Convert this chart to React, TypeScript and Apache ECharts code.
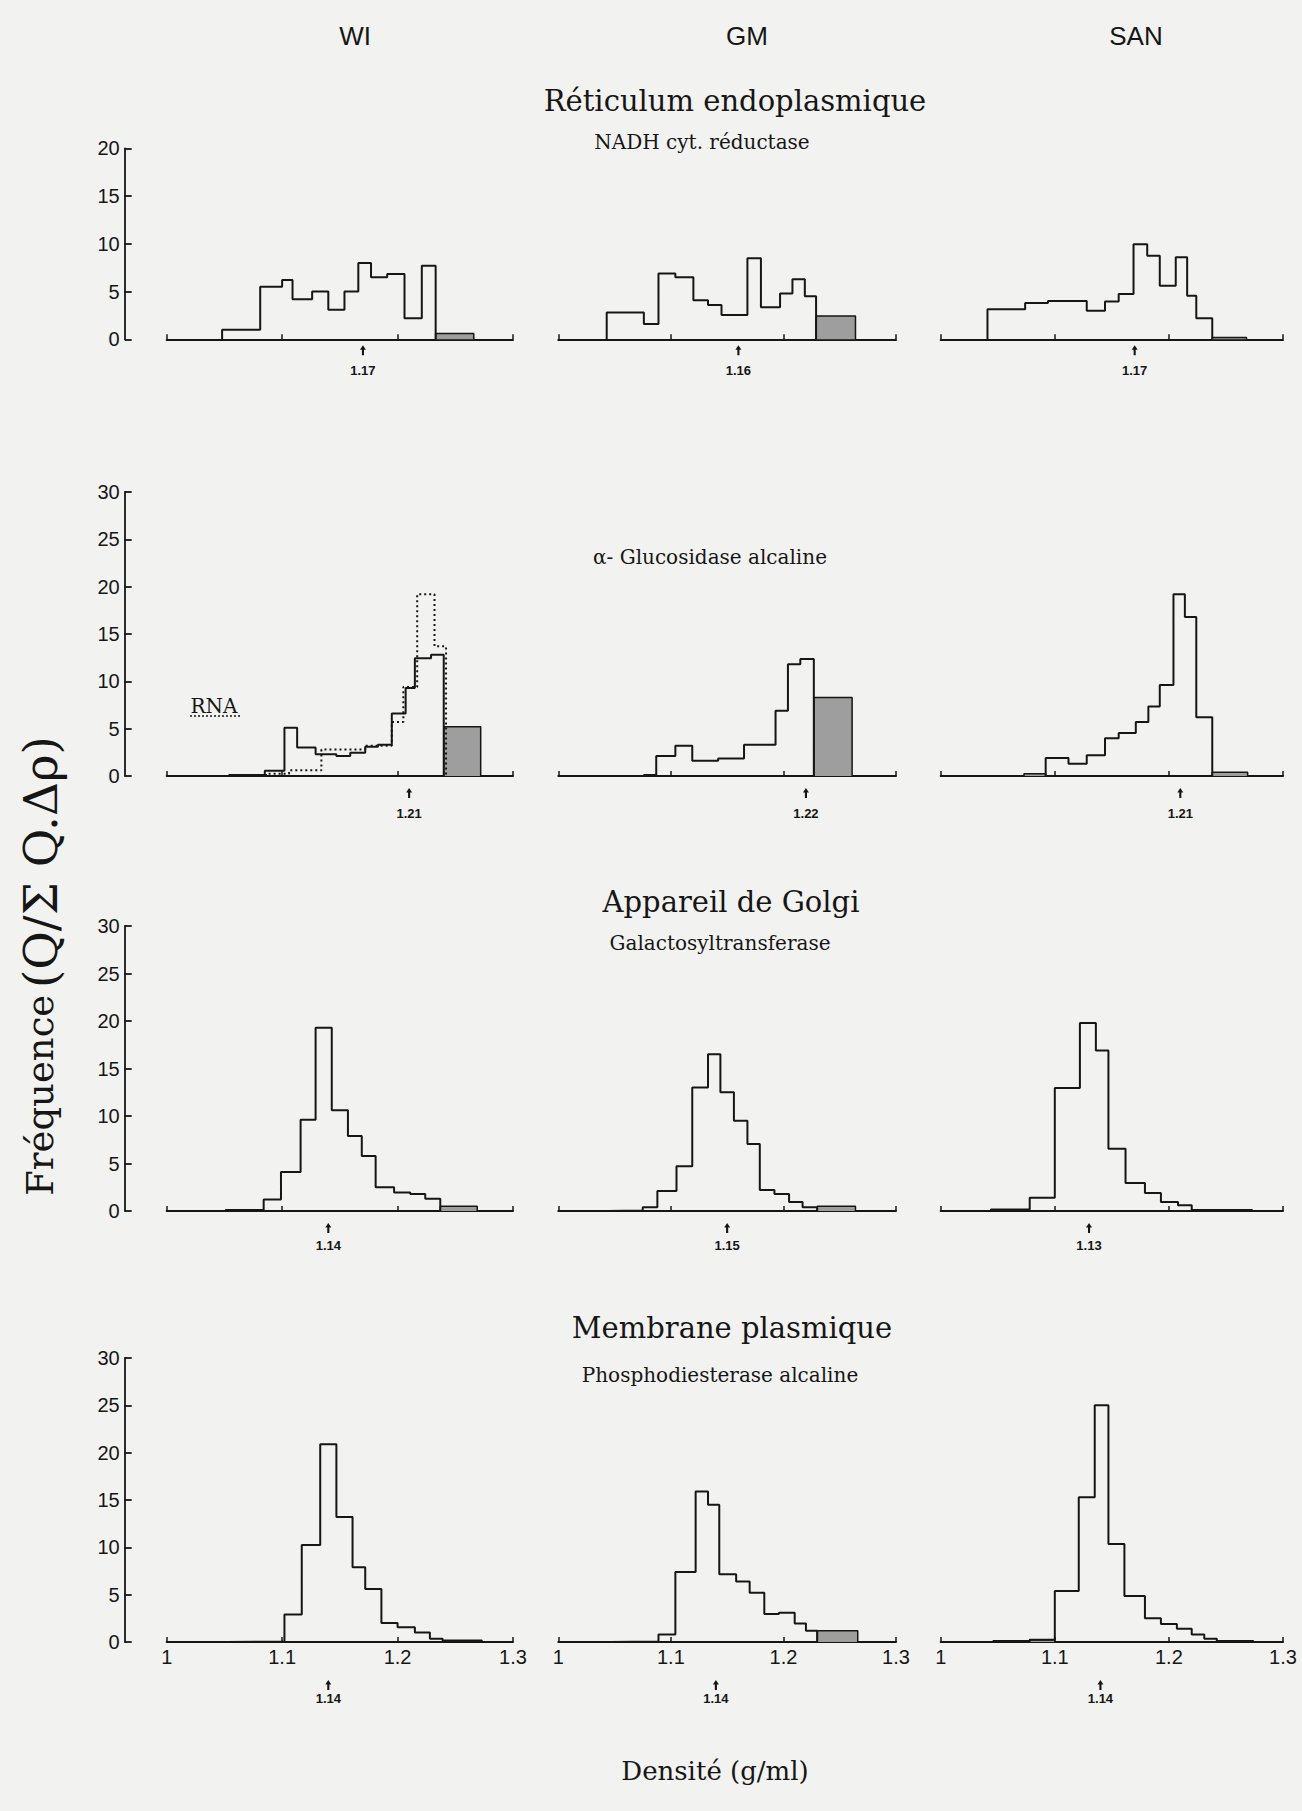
import React, { useEffect, useRef } from 'react';
import * as echarts from 'echarts';

const columns = ['WI', 'GM', 'SAN'];
const organelles = ['Réticulum endoplasmique', 'Appareil de Golgi', 'Membrane plasmique'];
const enzymes = ['NADH cyt. réductase', 'α- Glucosidase alcaline', 'Galactosyltransferase', 'Phosphodiesterase alcaline'];
const xTicks = [1, 1.1, 1.2, 1.3];
const yMaxByRow = [20, 30, 30, 30];
const yTickStep = 5;

// Row 1 — NADH cyt. réductase
const wiNadhEdges = [1.048, 1.081, 1.100, 1.109, 1.126, 1.140, 1.154, 1.166, 1.177, 1.191, 1.206, 1.221, 1.233];
const wiNadhValues = [1.0, 5.5, 6.2, 4.2, 5.0, 3.1, 5.0, 8.0, 6.5, 6.85, 2.2, 7.7];
const wiNadhShaded = [[1.233, 1.266, 0.6]];
const wiNadhMean = 1.17;

const gmNadhEdges = [1.043, 1.076, 1.089, 1.104, 1.120, 1.133, 1.145, 1.168, 1.180, 1.197, 1.208, 1.219, 1.229];
const gmNadhValues = [2.8, 1.6, 6.9, 6.5, 4.1, 3.6, 2.55, 8.5, 3.35, 4.8, 6.3, 4.5];
const gmNadhShaded = [[1.229, 1.264, 2.45]];
const gmNadhMean = 1.16;

const sanNadhEdges = [1.041, 1.074, 1.094, 1.128, 1.144, 1.156, 1.169, 1.181, 1.192, 1.206, 1.216, 1.224, 1.238];
const sanNadhValues = [3.15, 3.8, 4.0, 3.0, 3.95, 4.75, 9.95, 8.75, 5.6, 8.6, 4.55, 2.2];
const sanNadhShaded = [[1.238, 1.268, 0.2]];
const sanNadhMean = 1.17;

// Row 2 — α-Glucosidase alcaline
const wiGlucEdges = [1.054, 1.085, 1.102, 1.113, 1.129, 1.147, 1.159, 1.172, 1.183, 1.195, 1.207, 1.215, 1.229, 1.240];
const wiGlucValues = [0.1, 0.55, 5.1, 3.0, 2.3, 2.1, 2.45, 3.1, 3.3, 6.6, 9.3, 12.45, 12.8];
const wiGlucShaded = [[1.240, 1.272, 5.2]];
const wiGlucMean = 1.21;
const wiRnaEdges = [1.086, 1.106, 1.134, 1.172, 1.195, 1.205, 1.217, 1.232, 1.242];
const wiRnaValues = [0.25, 0.6, 2.8, 3.2, 5.7, 9.4, 19.2, 13.7];

const gmGlucEdges = [1.076, 1.087, 1.104, 1.119, 1.142, 1.165, 1.193, 1.204, 1.215, 1.227];
const gmGlucValues = [0.1, 2.1, 3.2, 1.6, 1.85, 3.3, 6.9, 11.8, 12.35];
const gmGlucShaded = [[1.227, 1.261, 8.3]];
const gmGlucMean = 1.22;

const sanGlucEdges = [1.092, 1.112, 1.128, 1.144, 1.156, 1.171, 1.182, 1.192, 1.204, 1.214, 1.224, 1.238];
const sanGlucValues = [1.9, 1.3, 2.2, 4.0, 4.55, 5.7, 7.35, 9.6, 19.2, 16.8, 6.2];
const sanGlucShaded = [[1.073, 1.092, 0.25], [1.238, 1.269, 0.4]];
const sanGlucMean = 1.21;

// Row 3 — Galactosyltransferase
const wiGalEdges = [1.051, 1.084, 1.099, 1.116, 1.129, 1.143, 1.157, 1.169, 1.181, 1.197, 1.211, 1.224, 1.237];
const wiGalValues = [0.1, 1.2, 4.1, 9.6, 19.3, 10.6, 7.9, 5.8, 2.5, 1.95, 1.8, 1.3];
const wiGalShaded = [[1.237, 1.269, 0.5]];
const wiGalMean = 1.14;

const gmGalEdges = [1.043, 1.075, 1.088, 1.105, 1.119, 1.133, 1.144, 1.156, 1.168, 1.179, 1.192, 1.205, 1.217, 1.230];
const gmGalValues = [0.05, 0.4, 2.1, 4.7, 13.0, 16.5, 12.5, 9.5, 7.05, 2.2, 1.8, 0.95, 0.4];
const gmGalShaded = [[1.230, 1.264, 0.5]];
const gmGalMean = 1.15;

const sanGalEdges = [1.044, 1.078, 1.100, 1.122, 1.136, 1.147, 1.162, 1.179, 1.193, 1.208, 1.220, 1.273];
const sanGalValues = [0.15, 1.4, 12.95, 19.8, 16.9, 6.55, 2.95, 1.9, 0.95, 0.6, 0.1];
const sanGalShaded: number[][] = [];
const sanGalMean = 1.13;

// Row 4 — Phosphodiesterase alcaline
const wiPdeEdges = [1.052, 1.102, 1.117, 1.133, 1.147, 1.161, 1.172, 1.186, 1.200, 1.215, 1.228, 1.239, 1.273];
const wiPdeValues = [0.05, 2.9, 10.25, 20.9, 13.2, 7.9, 5.6, 2.0, 1.55, 1.0, 0.35, 0.15];
const wiPdeShaded: number[][] = [];
const wiPdeMean = 1.14;

const gmPdeEdges = [1.045, 1.089, 1.104, 1.122, 1.133, 1.143, 1.158, 1.170, 1.183, 1.196, 1.210, 1.220, 1.230];
const gmPdeValues = [0.05, 0.8, 7.4, 15.9, 14.5, 7.15, 6.4, 5.2, 2.95, 3.1, 1.95, 1.2];
const gmPdeShaded = [[1.230, 1.266, 1.2]];
const gmPdeMean = 1.14;

const sanPdeEdges = [1.046, 1.078, 1.100, 1.121, 1.135, 1.147, 1.161, 1.179, 1.193, 1.207, 1.220, 1.231, 1.242, 1.274];
const sanPdeValues = [0.1, 0.25, 5.4, 15.3, 25.0, 10.35, 4.85, 2.5, 1.9, 1.4, 0.8, 0.35, 0.1];
const sanPdeShaded = [[1.078, 1.100, 0.25]];
const sanPdeMean = 1.14;

type Panel = { edges: number[]; values: number[]; shaded: number[][]; mean: number; dotted?: { edges: number[]; values: number[] } };

const panels: Panel[][] = [
  [
    { edges: wiNadhEdges, values: wiNadhValues, shaded: wiNadhShaded, mean: wiNadhMean },
    { edges: gmNadhEdges, values: gmNadhValues, shaded: gmNadhShaded, mean: gmNadhMean },
    { edges: sanNadhEdges, values: sanNadhValues, shaded: sanNadhShaded, mean: sanNadhMean },
  ],
  [
    { edges: wiGlucEdges, values: wiGlucValues, shaded: wiGlucShaded, mean: wiGlucMean, dotted: { edges: wiRnaEdges, values: wiRnaValues } },
    { edges: gmGlucEdges, values: gmGlucValues, shaded: gmGlucShaded, mean: gmGlucMean },
    { edges: sanGlucEdges, values: sanGlucValues, shaded: sanGlucShaded, mean: sanGlucMean },
  ],
  [
    { edges: wiGalEdges, values: wiGalValues, shaded: wiGalShaded, mean: wiGalMean },
    { edges: gmGalEdges, values: gmGalValues, shaded: gmGalShaded, mean: gmGalMean },
    { edges: sanGalEdges, values: sanGalValues, shaded: sanGalShaded, mean: sanGalMean },
  ],
  [
    { edges: wiPdeEdges, values: wiPdeValues, shaded: wiPdeShaded, mean: wiPdeMean },
    { edges: gmPdeEdges, values: gmPdeValues, shaded: gmPdeShaded, mean: gmPdeMean },
    { edges: sanPdeEdges, values: sanPdeValues, shaded: sanPdeShaded, mean: sanPdeMean },
  ],
];

// layout (pixels)
const colLeft = [166.7, 558.3, 940.7];
const colWidth = [346.3, 337.7, 342.3];
const rowTop = [148.3, 492, 926, 1358];
const rowBottom = [339.3, 776, 1211, 1642];
const markerCenter = [11, 17, 17, 43];
const markerLabelDist = [9, 9, 6, 2];

const INK = '#161616';
const SERIF = '"DejaVu Serif", "Liberation Serif", serif';
const SANS = '"Liberation Sans", Arial, sans-serif';

function stepPoints(edges: number[], values: number[]) {
  const pts: number[][] = [[edges[0], 0]];
  values.forEach((v, i) => {
    pts.push([edges[i], v], [edges[i + 1], v]);
  });
  pts.push([edges[edges.length - 1], 0]);
  return pts;
}

function buildOption() {
  const grid: any[] = [];
  const xAxis: any[] = [];
  const yAxis: any[] = [];
  const series: any[] = [];
  let idx = 0;
  panels.forEach((row, r) => {
    row.forEach((p, c) => {
      grid.push({ left: colLeft[c], top: rowTop[r], width: colWidth[c], height: rowBottom[r] - rowTop[r], containLabel: false });
      xAxis.push({
        type: 'value', gridIndex: idx, min: xTicks[0], max: xTicks[xTicks.length - 1], interval: 0.1,
        axisLine: { show: true, onZero: false, lineStyle: { color: INK, width: 2 } },
        axisTick: { show: true, inside: true, length: 5, lineStyle: { color: INK, width: 1.5 } },
        splitLine: { show: false },
        axisLabel: {
          show: r === 3, color: INK, fontSize: 20, fontFamily: SANS, margin: 5,
          formatter: (v: number) => (Math.abs(v - 1) < 1e-9 ? '1' : v.toFixed(1)),
        },
      });
      yAxis.push({
        type: 'value', gridIndex: idx, min: 0, max: yMaxByRow[r], interval: yTickStep,
        show: c === 0, offset: 42,
        axisLine: { show: true, lineStyle: { color: INK, width: 1.8 } },
        axisTick: { show: true, inside: true, length: 7, lineStyle: { color: INK, width: 1.8 } },
        splitLine: { show: false },
        axisLabel: { color: INK, fontSize: 20, fontFamily: SANS, margin: 5 },
      });
      series.push({
        type: 'line', xAxisIndex: idx, yAxisIndex: idx, data: stepPoints(p.edges, p.values),
        symbol: 'none', z: 4, clip: false,
        lineStyle: { color: INK, width: 2 },
        markPoint: {
          symbol: 'path://M2,0 L4,7 L2.7,7 L2.7,16 L1.3,16 L1.3,7 L0,7 Z',
          symbolSize: [6, 10], symbolOffset: [0, markerCenter[r]],
          itemStyle: { color: INK },
          label: {
            show: true, position: 'bottom', distance: markerLabelDist[r],
            formatter: p.mean.toFixed(2), color: INK, fontSize: 13, fontWeight: 'bold', fontFamily: SANS,
          },
          data: [{ coord: [p.mean, 0] }],
        },
      });
      p.shaded.forEach((s) => {
        series.push({
          type: 'line', xAxisIndex: idx, yAxisIndex: idx,
          data: [[s[0], 0], [s[0], s[2]], [s[1], s[2]], [s[1], 0]],
          symbol: 'none', z: 3,
          lineStyle: { color: INK, width: 1.5 },
          areaStyle: { color: '#9e9e9e', opacity: 1 },
        });
      });
      if (p.dotted) {
        series.push({
          type: 'line', xAxisIndex: idx, yAxisIndex: idx, data: stepPoints(p.dotted.edges, p.dotted.values),
          symbol: 'none', z: 5,
          lineStyle: { color: INK, width: 2, type: [2, 3] },
        });
      }
      idx++;
    });
  });

  const headerX = [355, 747, 1136];
  const graphic: any[] = [];
  columns.forEach((t, i) => {
    graphic.push({ type: 'text', x: headerX[i], y: 36, style: { text: t, fill: INK, font: `26px ${SANS}`, align: 'center', verticalAlign: 'middle' } });
  });
  const organellePos = [[735, 101], [731, 902], [732, 1328]];
  organelles.forEach((t, i) => {
    graphic.push({ type: 'text', x: organellePos[i][0], y: organellePos[i][1], style: { text: t, fill: INK, font: `29px ${SERIF}`, align: 'center', verticalAlign: 'middle' } });
  });
  const enzymePos = [[702, 142], [710, 557], [720, 943], [720, 1375]];
  enzymes.forEach((t, i) => {
    graphic.push({ type: 'text', x: enzymePos[i][0], y: enzymePos[i][1], style: { text: t, fill: INK, font: `20px ${SERIF}`, align: 'center', verticalAlign: 'middle' } });
  });
  graphic.push({ type: 'text', x: 715, y: 1771, style: { text: 'Densité (g/ml)', fill: INK, font: `26px ${SERIF}`, align: 'center', verticalAlign: 'middle' } });
  graphic.push({ type: 'text', x: 214, y: 706, style: { text: 'RNA', fill: INK, font: `20px ${SERIF}`, align: 'center', verticalAlign: 'middle' } });
  graphic.push({ type: 'line', shape: { x1: 190, y1: 716, x2: 240, y2: 716 }, style: { stroke: INK, lineWidth: 1.5, lineDash: [2, 2] } });
  graphic.push({
    type: 'text', x: 40, y: 966, rotation: Math.PI / 2,
    style: {
      text: '{a|Fréquence}  {b|(Q/Σ Q.Δρ)}',
      rich: {
        a: { fontSize: 37, fontFamily: SERIF, fill: INK, color: INK },
        b: { fontSize: 47, fontFamily: SERIF, fill: INK, color: INK },
      },
      fill: INK, align: 'center', verticalAlign: 'middle',
    },
  });

  return {
    animation: false,
    backgroundColor: '#f2f2f0',
    grid, xAxis, yAxis, series, graphic,
  };
}

export default function App() {
  const ref = useRef<HTMLDivElement>(null);
  useEffect(() => {
    const chart = echarts.init(ref.current!, undefined, { renderer: 'svg' });
    chart.setOption(buildOption() as any);
    return () => chart.dispose();
  }, []);
  return <div ref={ref} style={{ position: 'absolute', left: 0, top: 0, width: 1302, height: 1811 }} />;
}
